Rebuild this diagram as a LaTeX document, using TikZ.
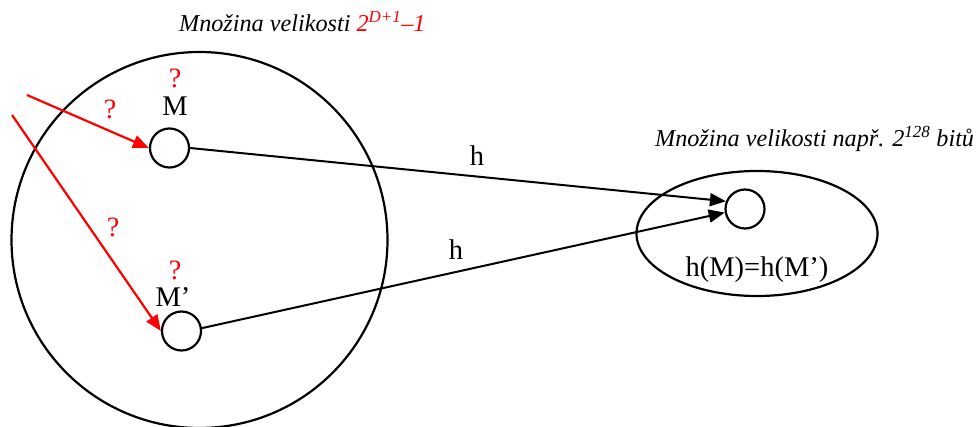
\documentclass[tikz,border=0pt]{standalone}
\usepackage{fontspec}
\setmainfont{Liberation Serif}
\usetikzlibrary{arrows.meta,shapes.geometric}
\begin{document}
\begin{tikzpicture}[x=1pt,y=-1pt,line width=2.2pt,
  dot/.style={draw,circle,minimum size=39pt,inner sep=0pt,line width=2.2pt},
  lbl/.style={font=\fontsize{28.5}{32}\selectfont,inner sep=0pt,anchor=base},
  qm/.style={text=red,font=\fontsize{28}{32}\selectfont,inner sep=0pt,anchor=base},
  ttl/.style={font=\fontsize{24.2}{28}\selectfont\itshape,inner sep=0pt,anchor=base west},
  blk/.style={-{Triangle[length=16pt,width=13pt]},line width=2pt},
  redarr/.style={red,-{Triangle[length=16pt,width=13pt]},line width=2.2pt}]
\useasboundingbox (0,0) rectangle (979,427);
% big set
\node[draw,circle,minimum size=376pt,inner sep=0pt,line width=2.2pt] (big) at (199.5,240) {};
\node[ttl] (t1) at (178,32) {Množina velikosti \textcolor{red}{2\textsuperscript{D+1}–1}};
% small set
\node[draw,ellipse,minimum width=241pt,minimum height=125pt,inner sep=0pt,line width=2.2pt] (small) at (757,233.5) {};
\node[ttl] (t2) at (654,147) {Množina velikosti např. 2\textsuperscript{128} bitů};
% points
\node[dot] (M) at (169.5,148) {};
\node[dot] (Mp) at (181.5,331) {};
\node[dot] (T) at (745,209) {};
\node[lbl] (lM) at (175,116) {M};
\node[lbl] (lMp) at (173,307) {M’};
\node[lbl] (eq) at (757,277) {h(M)=h(M’)};
\node[lbl] (h1) at (477,166) {h};
\node[lbl] (h2) at (456,260) {h};
\node[qm] (q1) at (175,88) {?};
\node[qm] (q2) at (110,119) {?};
\node[qm] (q3) at (175,280) {?};
\node[qm] (q4) at (113,237) {?};
% connectors
\draw[blk] (M.east) -- (T.158);
\draw[blk] (Mp.8) -- (T.190);
\coordinate (r1) at (27,95);
\coordinate (r2) at (12,115);
\draw[redarr] (r1) -- (M.west);
\draw[redarr] (r2) -- (Mp.west);
\end{tikzpicture}
\end{document}
